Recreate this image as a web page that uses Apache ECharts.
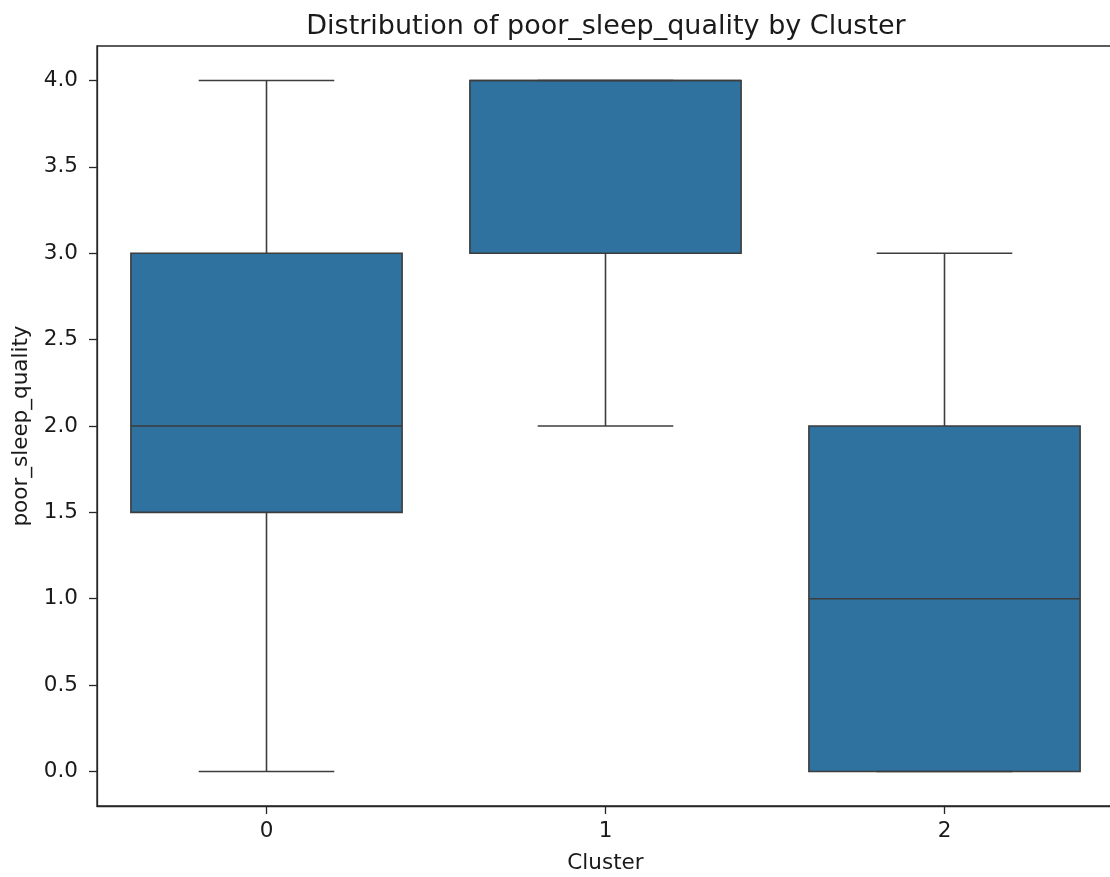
<!DOCTYPE html>
<html>
<head>
<meta charset="utf-8">
<script src="https://cdn.jsdelivr.net/npm/echarts@6/dist/echarts.min.js"></script>
<style>
html,body{margin:0;padding:0;background:#fff;}
#chart{width:1110px;height:877px;}
</style>
</head>
<body>
<div id="chart"></div>
<script>
// Data
var categories = ['0', '1', '2'];
var whiskerLow = [0, 2, 0];
var q1 = [1.5, 3, 0];
var median = [2, 4, 1];
var q3 = [3, 4, 2];
var whiskerHigh = [4, 4, 3];
var yTicks = [0, 0.5, 1, 1.5, 2, 2.5, 3, 3.5, 4];

var boxFill = '#2f72a0';
var lineColor = '#3d3d3d';
var font = 'DejaVu Sans';

var seriesData = categories.map(function (c, i) {
  return [i, whiskerLow[i], q1[i], median[i], q3[i], whiskerHigh[i]];
});

function renderBox(params, api) {
  var x = api.value(0);
  var band = api.size([1, 0])[0];
  var bw = band * 0.8;
  var cw = bw * 0.5;
  var pLow = api.coord([x, api.value(1)]);
  var pQ1 = api.coord([x, api.value(2)]);
  var pMed = api.coord([x, api.value(3)]);
  var pQ3 = api.coord([x, api.value(4)]);
  var pHigh = api.coord([x, api.value(5)]);
  var cx = pQ1[0];
  var lineStyle = { stroke: lineColor, lineWidth: 1.6, fill: null };
  return {
    type: 'group',
    children: [
      { type: 'rect', shape: { x: cx - bw / 2, y: pQ3[1], width: bw, height: pQ1[1] - pQ3[1] },
        style: { fill: boxFill, stroke: lineColor, lineWidth: 1.6 } },
      { type: 'line', shape: { x1: cx, y1: pQ1[1], x2: cx, y2: pLow[1] }, style: lineStyle },
      { type: 'line', shape: { x1: cx, y1: pQ3[1], x2: cx, y2: pHigh[1] }, style: lineStyle },
      { type: 'line', shape: { x1: cx - cw / 2, y1: pLow[1], x2: cx + cw / 2, y2: pLow[1] }, style: lineStyle },
      { type: 'line', shape: { x1: cx - cw / 2, y1: pHigh[1], x2: cx + cw / 2, y2: pHigh[1] }, style: lineStyle },
      { type: 'line', shape: { x1: cx - bw / 2, y1: pMed[1], x2: cx + bw / 2, y2: pMed[1] }, style: lineStyle }
    ]
  };
}

var chart = echarts.init(document.getElementById('chart'), null, { renderer: 'canvas' });
chart.setOption({
  animation: false,
  backgroundColor: '#fff',
  textStyle: { fontFamily: font },
  title: {
    text: 'Distribution of poor_sleep_quality by Cluster',
    left: 601, top: 8, textAlign: 'center',
    textStyle: { fontFamily: font, fontSize: 27, fontWeight: 'normal', color: '#1a1a1a' }
  },
  grid: { left: 97, width: 1017, top: 46, bottom: 71, show: true, borderColor: '#262626', borderWidth: 1.3,
    backgroundColor: 'transparent', containLabel: false, outerBoundsMode: 'none' },
  xAxis: {
    type: 'category', data: categories, boundaryGap: true,
    name: 'Cluster', nameLocation: 'middle', nameGap: 46,
    nameTextStyle: { fontFamily: font, fontSize: 21.5, color: '#1a1a1a' },
    axisLine: { show: true, onZero: false, lineStyle: { color: '#262626', width: 1.3 } },
    axisTick: { show: true, alignWithLabel: true, length: 8, lineStyle: { color: '#262626', width: 1.3 } },
    axisLabel: { fontFamily: font, fontSize: 21.5, color: '#1a1a1a', margin: 14 },
    splitLine: { show: false }
  },
  yAxis: {
    type: 'value', min: -0.2, max: 4.2,
    name: 'poor_sleep_quality', nameLocation: 'middle', nameGap: 60, nameRotate: 90,
    nameTextStyle: { fontFamily: font, fontSize: 21.5, color: '#1a1a1a' },
    axisLine: { show: true, onZero: false, lineStyle: { color: '#262626', width: 1.3 } },
    axisTick: { show: true, length: 8, customValues: yTicks, lineStyle: { color: '#262626', width: 1.3 } },
    axisLabel: { fontFamily: font, fontSize: 21.5, color: '#1a1a1a', margin: 19, customValues: yTicks,
      formatter: function (v) { return v.toFixed(1); } },
    splitLine: { show: false }
  },
  series: [{
    type: 'custom',
    renderItem: renderBox,
    encode: { x: 0, y: [1, 2, 3, 4, 5] },
    data: seriesData,
    clip: false
  }]
});
</script>
</body>
</html>
